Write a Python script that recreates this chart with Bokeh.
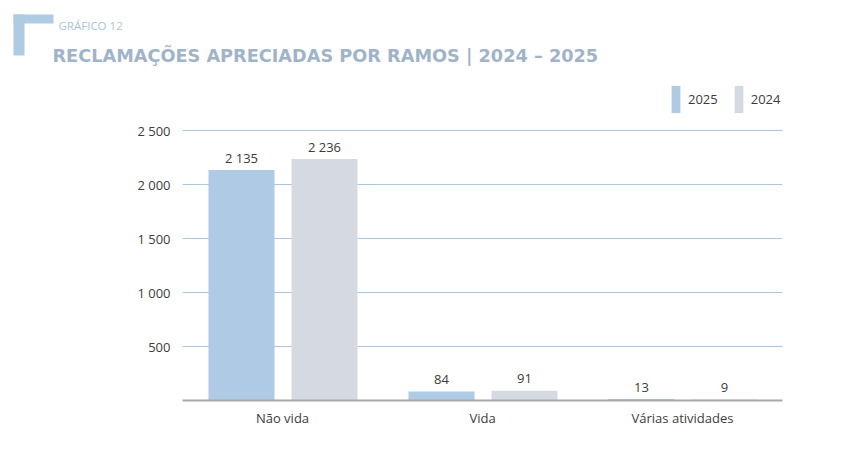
from bokeh.plotting import figure
from bokeh.layouts import column
from bokeh.models import (ColumnDataSource, FactorRange, Range1d, FixedTicker,
                          Legend, LegendItem)
from bokeh.transform import dodge
from bokeh.core.properties import value
from bokeh.embed import file_html
from bokeh.resources import INLINE

# ---- data ----
categories = ["Não vida", "Vida", "Várias atividades"]
values_2025 = [2135, 84, 13]
values_2024 = [2236, 91, 9]
y_ticks = [500, 1000, 1500, 2000, 2500]
y_tick_labels = ["500", "1 000", "1 500", "2 000", "2 500"]
chart_label = "GRÁFICO 12"
chart_title = "RECLAMAÇÕES APRECIADAS POR RAMOS | 2024 – 2025"

FONT = "Open Sans"
TEXT_COLOR = "#3c3c3c"
C2025 = "#aecae4"
C2024 = "#d5d9e2"
GRID = "#abc6de"


def fmt(v):
    return f"{v:,}".replace(",", " ")


src = ColumnDataSource(dict(
    cat=categories,
    v25=values_2025,
    v24=values_2024,
    l25=[fmt(v) for v in values_2025],
    l24=[fmt(v) for v in values_2024],
))

W = 852

# ---- header figure (decorative bracket + titles) ----
HH = 70
hdr = figure(width=W, height=HH, x_range=Range1d(0, W), y_range=Range1d(HH, 0),
             output_backend="svg", toolbar_location=None, min_border=0,
             outline_line_color=None)
hdr.frame_align = False
hdr.axis.visible = False
hdr.grid.visible = False
hdr.quad(left=[13, 13], right=[53, 24], top=[14, 14], bottom=[23, 55],
         fill_color="#aecbe4", line_color=None)
hdr.text(x=[58], y=[25], text=[chart_label], text_font=value(FONT),
         text_font_size="11.5px", text_color="#a9c4de", text_baseline="alphabetic")
hdr.text(x=[52], y=[55], text=[chart_title], text_font=value("DejaVu Sans"),
         text_font_size="17.7px", text_font_style="bold", text_color="#9fb4ca",
         text_baseline="alphabetic")

# ---- main chart ----
H = 390
FB = 330  # frame bottom (value 0) on this canvas
p = figure(width=W, height=H, x_range=FactorRange(*categories, range_padding=0),
           y_range=Range1d(0, 2500 * FB / 270),
           output_backend="svg", toolbar_location=None,
           min_border_left=182, min_border_right=70, min_border_top=0,
           min_border_bottom=H - FB, outline_line_color=None)
p.frame_align = False

r25 = p.vbar(x=dodge("cat", -0.205, range=p.x_range), top="v25", width=0.33,
             source=src, fill_color=C2025, line_color=None)
r24 = p.vbar(x=dodge("cat", 0.21, range=p.x_range), top="v24", width=0.33,
             source=src, fill_color=C2024, line_color=None)

p.text(x=dodge("cat", -0.205, range=p.x_range), y="v25", text="l25", source=src,
       text_align="center", text_baseline="alphabetic", y_offset=-12,
       text_font=value(FONT), text_font_size="13px", text_color=TEXT_COLOR)
p.text(x=dodge("cat", 0.21, range=p.x_range), y="v24", text="l24", source=src,
       text_align="center", text_baseline="alphabetic", y_offset=-12,
       text_font=value(FONT), text_font_size="13px", text_color=TEXT_COLOR)

p.xgrid.visible = False
p.ygrid.ticker = FixedTicker(ticks=y_ticks)
p.ygrid.grid_line_color = GRID
p.ygrid.grid_line_width = 1

p.yaxis.ticker = FixedTicker(ticks=y_ticks)
p.yaxis.major_label_overrides = {t: l for t, l in zip(y_ticks, y_tick_labels)}
p.yaxis.axis_line_color = None
p.yaxis.major_tick_line_color = None
p.yaxis.minor_tick_line_color = None
p.yaxis.major_label_standoff = 6
p.yaxis.major_label_text_font = FONT
p.yaxis.major_label_text_font_size = "13px"
p.yaxis.major_label_text_color = TEXT_COLOR

p.xaxis.axis_line_color = "#a8a8a8"
p.xaxis.axis_line_width = 2
p.xaxis.major_tick_line_color = None
p.xaxis.minor_tick_line_color = None
p.xaxis.major_label_standoff = 2
p.xaxis.major_label_text_font = FONT
p.xaxis.major_label_text_font_size = "13px"
p.xaxis.major_label_text_color = TEXT_COLOR

# legend (glyph boxes are inset 10% by Bokeh, so enlarge them)
GW, GH = 11, 34
legend = Legend(items=[LegendItem(label="2025", renderers=[r25]),
                       LegendItem(label="2024", renderers=[r24])],
                orientation="horizontal",
                location=(488, 284),
                glyph_width=GW, glyph_height=GH, label_standoff=7, spacing=15,
                padding=0, margin=0, border_line_color=None,
                background_fill_alpha=0,
                label_text_font=FONT, label_text_font_size="13px",
                label_text_color=TEXT_COLOR)
p.add_layout(legend, "center")

layout = column(hdr, p, spacing=0)
open("out.html", "w").write(file_html(layout, INLINE))
